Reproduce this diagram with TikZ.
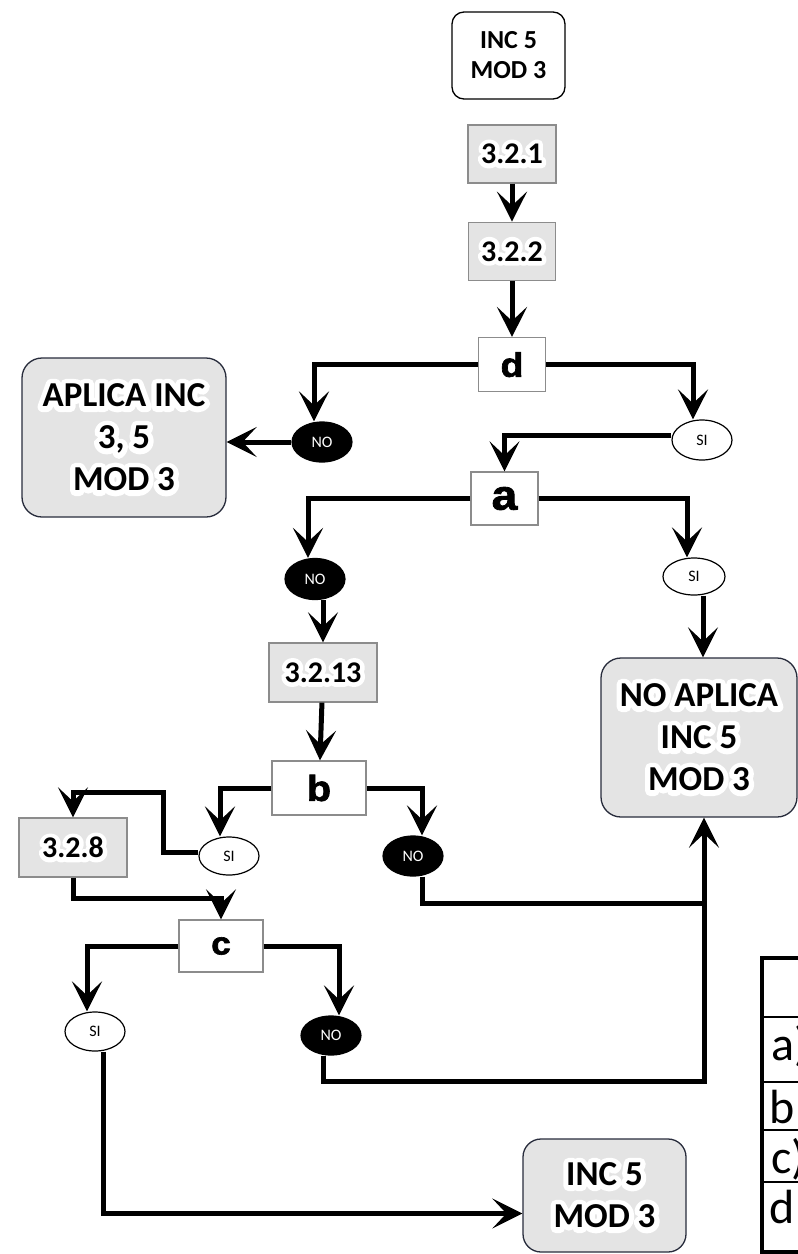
\documentclass[tikz,border=0pt]{standalone}
\usepackage{xcolor}
\usepackage{fontspec}
\usepackage{tikz}
\usetikzlibrary{arrows.meta, positioning, calc, shapes.geometric}
\setmainfont{Carlito}
\newfontfamily\halofont[FakeBold=30]{Carlito}
\newfontfamily\letterfont[FakeBold=2,FakeStretch=1.1]{Liberation Sans}
\definecolor{BoxGray}{RGB}{228,228,228}
\definecolor{EdgeGray}{RGB}{140,140,140}
\definecolor{EdgeDark}{RGB}{40,44,60}
\newcommand{\glow}[1]{\rlap{\special{pdf:code 1 j}\textcolor{white}{\halofont\bfseries #1}}#1}

\begin{document}
\begin{tikzpicture}[
  x=1pt, y=-1pt,
  start/.style={rectangle, rounded corners=12pt, draw=black, line width=1.3pt, fill=white,
                align=center, font=\bfseries\fontsize{26}{30}\selectfont,
                minimum width=113pt, minimum height=87pt, inner sep=0pt},
  stepbox/.style={rectangle, draw=EdgeGray, line width=1.3pt, fill=BoxGray,
                  font=\bfseries\fontsize{30}{36}\selectfont, minimum height=58pt, inner sep=0pt},
  choice/.style={rectangle, draw=EdgeGray, line width=1.3pt, fill=white,
                 font=\letterfont\bfseries\fontsize{34}{40}\selectfont, minimum height=54pt, inner sep=0pt},
  result/.style={rectangle, rounded corners=20pt, draw=EdgeDark, line width=1.3pt, fill=BoxGray,
                 align=center, font=\bfseries\fontsize{35}{42}\selectfont, inner sep=0pt},
  sibox/.style={ellipse, draw=black, line width=1.2pt, fill=white, font=\fontsize{16}{18}\selectfont,
                minimum width=60pt, minimum height=40pt, inner sep=0pt},
  nobox/.style={sibox, fill=black, text=white},
  cell/.style={font=\fontsize{48}{56}\selectfont, inner sep=0pt, anchor=base west},
  arrow/.style={-{Stealth[length=30pt, width=30pt, inset=14pt]}, line width=5pt},
  link/.style={line width=5pt}
]
\path[use as bounding box, fill=white] (0,0) rectangle (798,1254);

% upper chain
\node[start] (start) at (508.5,55.5) {INC 5\\MOD 3};
\node[stepbox, minimum width=88pt] (s321) at (512,154) {\glow{3.2.1}};
\node[stepbox, minimum width=87pt, below=38pt of s321] (s322) {\glow{3.2.2}};
\node[choice, minimum width=67pt, below=56pt of s322] (d) {d};
\node[nobox] (noD) at (322,442) {NO};
\node[sibox] (siD) at (702,440) {SI};
\node[result, minimum width=204pt, minimum height=159pt] (aplica) at (124,437.5)
  {\glow{APLICA INC}\\\glow{3, 5}\\\glow{MOD 3}};

% question a
\node[choice, minimum width=67pt, minimum height=53pt, font=\letterfont\bfseries\fontsize{42}{48}\selectfont] (a) at (504.5,498.5) {a};
\node[nobox, minimum height=41pt] (noA) at (315,579) {NO};
\node[sibox, minimum width=62pt, minimum height=37pt] (siA) at (694,576.5) {SI};
\node[result, minimum width=196pt, minimum height=159pt] (noaplica) at (699,737.5)
  {\glow{NO APLICA}\\\glow{INC 5}\\\glow{MOD 3}};
\node[stepbox, minimum width=108pt, minimum height=59pt] (s3213) at (323,672.5) {\glow{3.2.13}};

% question b
\node[choice, minimum width=94pt, font=\letterfont\bfseries\fontsize{36}{42}\selectfont] (b) at (319,788) {b};
\node[nobox] (noB) at (413,856) {NO};
\node[sibox, minimum height=38pt] (siB) at (229,856) {SI};
\node[stepbox, minimum width=108pt, minimum height=59pt] (s328) at (73,847.5) {\glow{3.2.8}};

% question c
\node[choice, minimum width=84pt, minimum height=52pt, font=\letterfont\bfseries\fontsize{32}{38}\selectfont] (c) at (221,946) {c};
\node[sibox, minimum height=39pt] (siC) at (95,1031.5) {SI};
\node[nobox, minimum height=39pt] (noC) at (331,1035.5) {NO};
\node[result, rounded corners=18pt, minimum width=163pt, minimum height=113pt] (final) at (604.5,1195.5)
  {\glow{INC 5}\\\glow{MOD 3}};

% connectors
\draw[arrow] (s321) -- (s322);
\draw[arrow] (s322) -- (d);
\draw[arrow] (d.west) -| ([xshift=-8pt]noD.north);
\draw[arrow] (noD.west) -- (noD.west -| aplica.east);
\draw[arrow] (d.east) -| ([xshift=-9pt]siD.north);
\draw[arrow] ([yshift=5pt]siD.west) -| (a.north);
\draw[arrow] (a.west) -| ([xshift=-7pt]noA.north);
\draw[arrow] (a.east) -| ([xshift=-7pt]siA.north);
\draw[arrow] ([xshift=9pt]siA.south) -- ([xshift=9pt]siA.south |- noaplica.north);
\draw[arrow] (s3213.north |- noA.south) -- (s3213.north);
\draw[arrow] (s3213) -- (b);
\draw[arrow] (b.east) -| ([xshift=9pt]noB.north);
\draw[arrow] (b.west) -| ([xshift=-9pt]siB.north);
\coordinate (loopB) at (163,792);
\draw[arrow] ([yshift=4pt]siB.west) -| (loopB) -| (s328.north);
\coordinate (dropB) at (221,898);
\draw[arrow] (s328.south) |- (dropB) -- (c.north);
\draw[arrow] (c.west) -| ([xshift=-8pt]siC.north);
\draw[arrow] (c.east) -| ([xshift=8pt]noC.north);
\draw[arrow] ([xshift=8pt]siC.south) |- ([yshift=-18pt]final.west);
\coordinate (mergeB) at (704,903);
\coordinate (mergeC) at (704,1081);
\draw[link] ([xshift=9pt]noB.south) |- (mergeB);
\draw[arrow] ([xshift=-8pt]noC.south) |- (mergeC) -- (mergeC |- noaplica.south);

% table at the right edge
\draw[line width=4pt] (762,958) rectangle (900,1252);
\foreach \y in {1017,1082,1130,1182}
  \draw[line width=1.5pt] (762,\y) -- (900,\y);
\node[cell] (rowA) at (771,1060) {a)};
\node[cell] (rowB) at (769,1123) {b};
\node[cell] (rowC) at (771,1173) {c)};
\node[cell] (rowD) at (769,1223) {d};
\end{tikzpicture}
\end{document}
